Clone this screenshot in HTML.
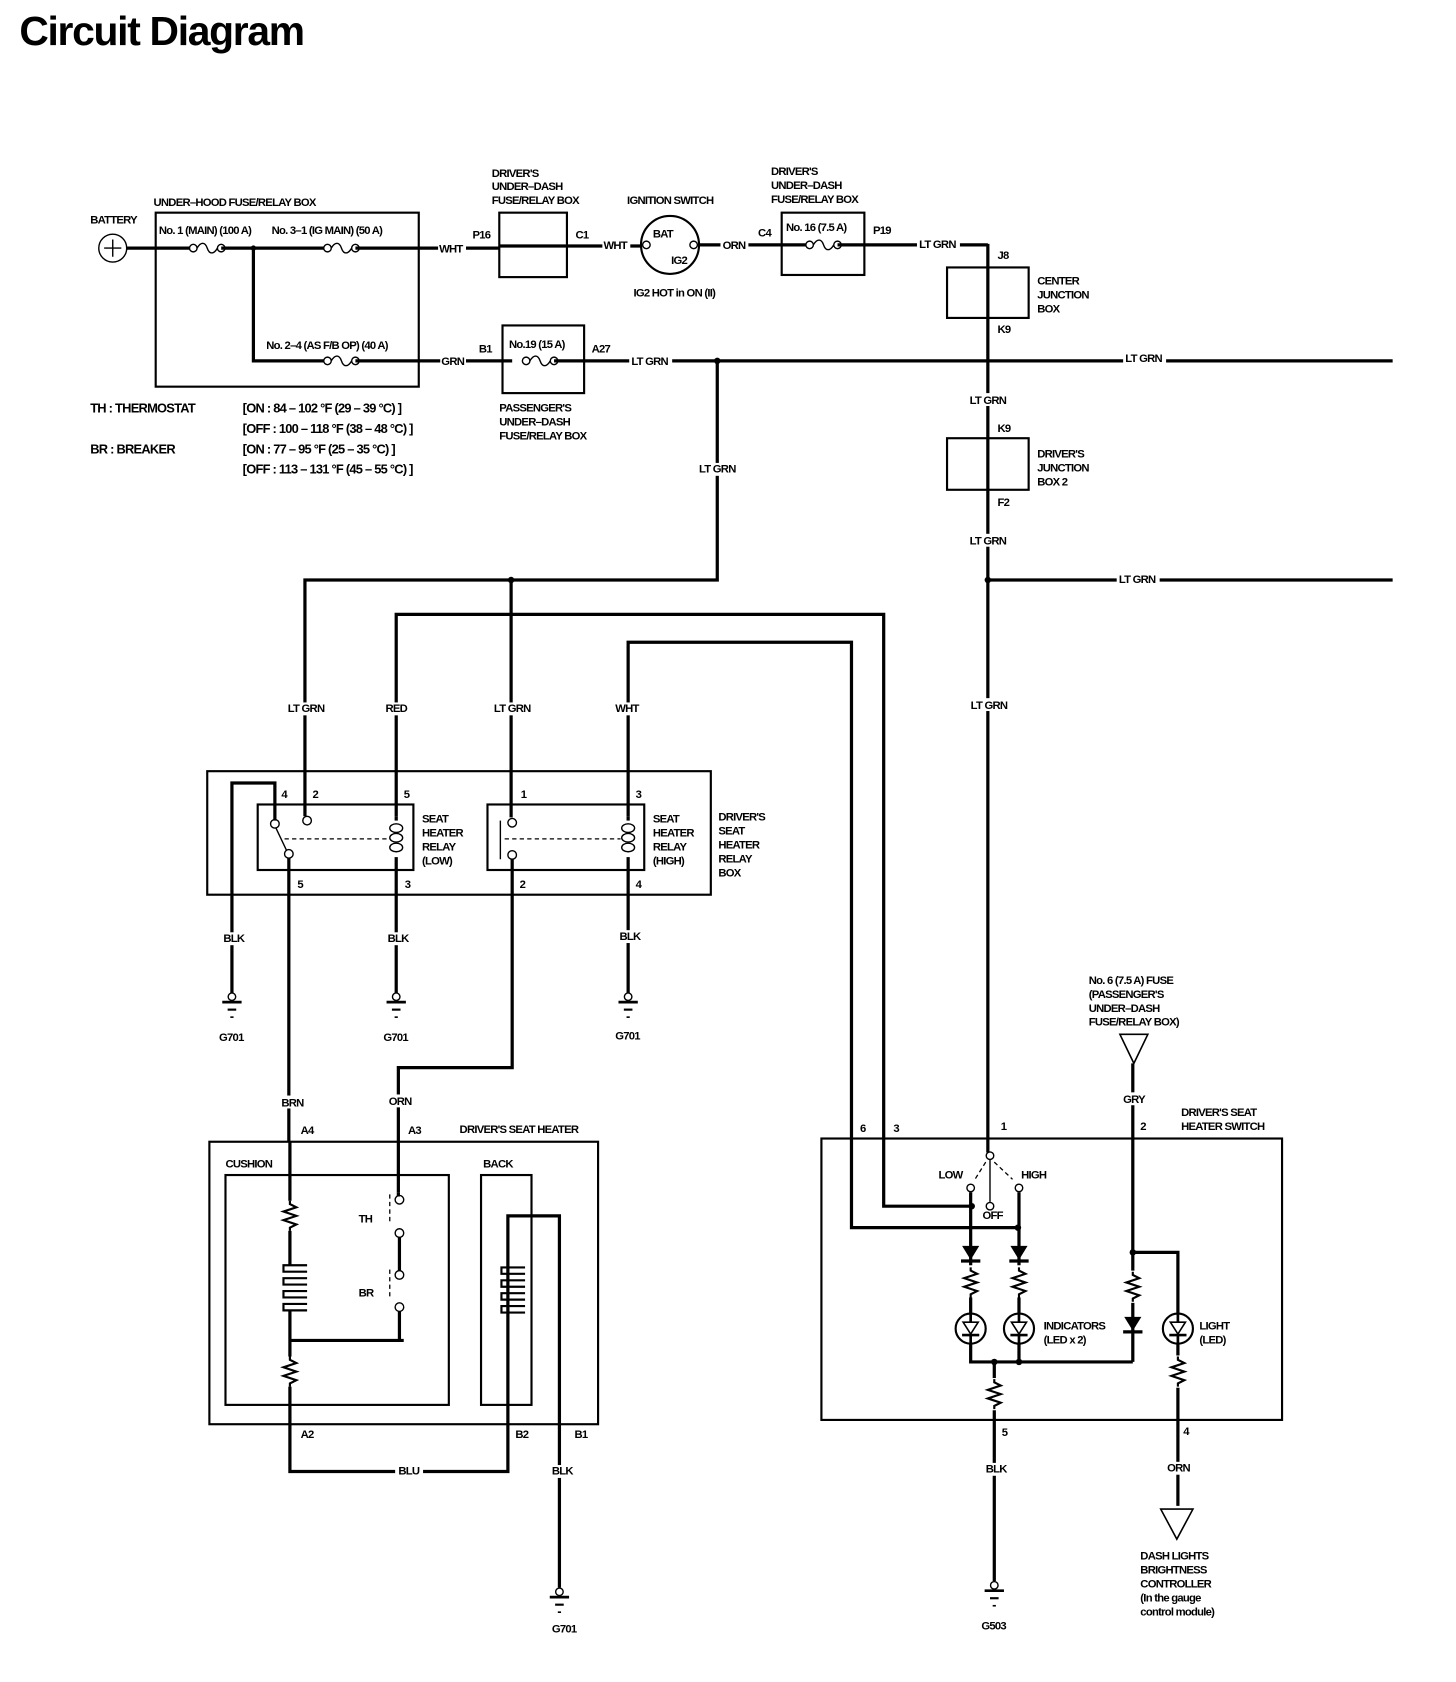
<!DOCTYPE html>
<html><head><meta charset="utf-8"><style>
html,body{margin:0;padding:0;background:#fff;}
svg{display:block;}
text{font-family:"Liberation Sans",sans-serif;font-weight:bold;font-size:10.5px;letter-spacing:-0.7px;fill:#000;}
.w{stroke:#000;stroke-width:3;fill:none;}
.b{stroke:#000;stroke-width:2;fill:none;}
.t{stroke:#000;stroke-width:1.3;fill:none;}
.d{stroke:#000;stroke-width:1.2;fill:none;stroke-dasharray:4 3;}
</style></head><body>
<svg width="1456" height="1682" viewBox="0 0 1356 1566" preserveAspectRatio="none" xmlns="http://www.w3.org/2000/svg">
<defs>
<g id="gnd"><circle cx="0" cy="0" r="3.5" fill="#fff" stroke="#000" stroke-width="1.3"/><line x1="-9" y1="5" x2="9" y2="5" stroke="#000" stroke-width="2.5"/><line x1="-4" y1="12" x2="4" y2="12" stroke="#000" stroke-width="2"/><line x1="-1.5" y1="19" x2="1.5" y2="19" stroke="#000" stroke-width="1.5"/></g>
<path id="res" d="M0,0 L0,3 L6,6 L-6,10 L6,14 L-6,18 L6,22 L0,25 L0,28" stroke="#000" stroke-width="2" fill="none"/>
<g id="fuse"><circle cx="-13" cy="0" r="3.5" fill="#fff" stroke="#000" stroke-width="1.3"/><circle cx="13" cy="0" r="3.5" fill="#fff" stroke="#000" stroke-width="1.3"/><path d="M-9.5,0 C-6,-6 -2,-6 0,0 C2,6 6,6 9.5,0" stroke="#000" stroke-width="1.3" fill="none"/></g>
<g id="heat"><path d="M10,0 L-12,0 L-12,6 L10,6 M10,12 L-12,12 L-12,18 L10,18 M10,24 L-12,24 L-12,30 L10,30 M10,36 L-12,36 L-12,42 L10,42" stroke="#000" stroke-width="2" fill="none"/></g>
<g id="led"><circle cx="0" cy="0" r="14" fill="#fff" stroke="#000" stroke-width="2"/><path d="M-7,-6 L7,-6 L0,5 Z" fill="none" stroke="#000" stroke-width="1.5"/><line x1="-8" y1="6" x2="8" y2="6" stroke="#000" stroke-width="2.5"/><line x1="0" y1="-14" x2="0" y2="-6" stroke="#000" stroke-width="2.5"/><line x1="0" y1="6" x2="0" y2="14" stroke="#000" stroke-width="2.5"/></g>
<g id="dio"><path d="M-8,-10 L8,-10 L0,3 Z" fill="#000"/><line x1="-9" y1="4" x2="9" y2="4" stroke="#000" stroke-width="3"/></g>
</defs>

<text x="18" y="42" style="font-size:38px;letter-spacing:-1.2px">Circuit Diagram</text>

<!-- battery -->
<circle cx="105" cy="231" r="13" class="t" stroke-width="1.5"/>
<path d="M97,231 H113 M105,223 V239" class="t" stroke-width="1.5"/>
<text x="84" y="208">BATTERY</text>
<line x1="118" y1="231" x2="180" y2="231" class="w"/>
<rect x="145" y="198" width="245" height="162" class="b"/>
<text x="143" y="192">UNDER–HOOD FUSE/RELAY BOX</text>
<use href="#fuse" x="193" y="231"/>
<line x1="206" y1="231" x2="305" y2="231" class="w"/>
<use href="#fuse" x="318" y="231"/>
<line x1="331" y1="231" x2="465" y2="231" class="w"/>
<circle cx="236" cy="231" r="2.5"/>
<text x="148" y="218">No. 1 (MAIN) (100 A)</text>
<text x="253" y="218">No. 3–1 (IG MAIN) (50 A)</text>
<path d="M236,231 V336 H305" class="w"/>
<use href="#fuse" x="318" y="336"/>
<line x1="331" y1="336" x2="477" y2="336" class="w"/>
<text x="248" y="325">No. 2–4 (AS F/B OP) (40 A)</text>
<rect x="408" y="226" width="26" height="12" fill="#fff"/><text x="409" y="235">WHT</text>
<rect x="410" y="331" width="24" height="12" fill="#fff"/><text x="411" y="340">GRN</text>

<text x="84" y="384" style="font-size:12px">TH : THERMOSTAT</text>
<text x="84" y="422" style="font-size:12px">BR : BREAKER</text>
<text x="226" y="384" style="font-size:12px">[ON : 84 – 102 °F (29 – 39 °C) ]</text>
<text x="226" y="403" style="font-size:12px">[OFF : 100 – 118 °F (38 – 48 °C) ]</text>
<text x="226" y="422" style="font-size:12px">[ON : 77 – 95 °F (25 – 35 °C) ]</text>
<text x="226" y="441" style="font-size:12px">[OFF : 113 – 131 °F (45 – 55 °C) ]</text>

<!-- driver's under-dash box 1 -->
<rect x="465" y="198" width="63" height="60" class="b"/>
<text x="458" y="165">DRIVER'S</text><text x="458" y="177">UNDER–DASH</text><text x="458" y="190">FUSE/RELAY BOX</text>
<text x="440" y="222">P16</text><text x="536" y="222">C1</text>
<line x1="465" y1="229" x2="598" y2="229" class="w"/>
<rect x="561" y="223" width="26" height="12" fill="#fff"/><text x="562" y="232">WHT</text>
<!-- ignition -->
<circle cx="624" cy="228" r="27" class="b"/>
<circle cx="602" cy="228" r="3.5" fill="#fff" class="t"/>
<circle cx="646" cy="228" r="3.5" fill="#fff" class="t"/>
<text x="608" y="221">BAT</text><text x="625" y="246">IG2</text>
<text x="584" y="190">IGNITION SWITCH</text>
<text x="590" y="276">IG2 HOT in ON (II)</text>
<line x1="650" y1="228" x2="728" y2="228" class="w"/>
<rect x="671" y="222" width="26" height="12" fill="#fff"/><text x="673" y="232">ORN</text>
<text x="706" y="220">C4</text>
<rect x="728" y="198" width="77" height="58" class="b"/>
<text x="718" y="163">DRIVER'S</text><text x="718" y="176">UNDER–DASH</text><text x="718" y="189">FUSE/RELAY BOX</text>
<text x="732" y="215">No. 16 (7.5 A)</text>
<line x1="728" y1="228" x2="754" y2="228" class="w"/>
<use href="#fuse" x="767" y="228"/>
<line x1="780" y1="228" x2="920" y2="228" class="w"/>
<text x="813" y="218">P19</text>
<rect x="854" y="222" width="40" height="12" fill="#fff"/><text x="856" y="231">LT GRN</text>
<!-- vertical 920 -->
<line x1="920" y1="227" x2="920" y2="1073" class="w"/>
<text x="929" y="241">J8</text>
<rect x="882" y="249" width="76" height="47" class="b"/>
<text x="966" y="265">CENTER</text><text x="966" y="278">JUNCTION</text><text x="966" y="291">BOX</text>
<text x="929" y="310">K9</text>
<rect x="900" y="366" width="40" height="12" fill="#fff"/><text x="903" y="376">LT GRN</text>
<text x="929" y="402">K9</text>
<rect x="882" y="408" width="76" height="48" class="b"/>
<text x="966" y="426">DRIVER'S</text><text x="966" y="439">JUNCTION</text><text x="966" y="452">BOX 2</text>
<text x="929" y="471">F2</text>
<rect x="900" y="497" width="40" height="12" fill="#fff"/><text x="903" y="507">LT GRN</text>
<circle cx="920" cy="540" r="3"/>
<line x1="920" y1="540" x2="1297" y2="540" class="w"/>
<rect x="1040" y="534" width="40" height="12" fill="#fff"/><text x="1042" y="543">LT GRN</text>
<rect x="900" y="650" width="40" height="12" fill="#fff"/><text x="904" y="660">LT GRN</text>

<!-- passenger fuse -->
<rect x="468" y="303" width="76" height="63" class="b"/>
<text x="474" y="324">No.19 (15 A)</text>
<use href="#fuse" x="503" y="336"/>
<line x1="516" y1="336" x2="1297" y2="336" class="w"/>
<text x="446" y="328">B1</text><text x="551" y="328">A27</text>
<rect x="586" y="330" width="40" height="12" fill="#fff"/><text x="588" y="340">LT GRN</text>
<rect x="1046" y="327" width="40" height="12" fill="#fff"/><text x="1048" y="337">LT GRN</text>
<text x="465" y="383">PASSENGER'S</text><text x="465" y="396">UNDER–DASH</text><text x="465" y="409">FUSE/RELAY BOX</text>
<circle cx="668" cy="336" r="3"/>
<path d="M668,336 V540 H284 V760" class="w"/>
<rect x="648" y="431" width="40" height="12" fill="#fff"/><text x="651" y="440">LT GRN</text>
<circle cx="476" cy="540" r="3"/>
<line x1="476" y1="540" x2="476" y2="761" class="w"/>
<rect x="266" y="654" width="40" height="12" fill="#fff"/><text x="268" y="663">LT GRN</text>
<rect x="458" y="654" width="40" height="12" fill="#fff"/><text x="460" y="663">LT GRN</text>
<!-- RED -->
<path d="M369,760 V572 H823 V1123 H905" class="w"/>
<rect x="358" y="654" width="24" height="12" fill="#fff"/><text x="359" y="663">RED</text>
<!-- WHT -->
<path d="M585,760 V598 H793 V1143 H948" class="w"/>
<rect x="572" y="654" width="26" height="12" fill="#fff"/><text x="573" y="663">WHT</text>

<!-- relay box -->
<rect x="193" y="718" width="469" height="115" class="b"/>
<rect x="240" y="749" width="145" height="61" class="b"/>
<rect x="454" y="749" width="146" height="61" class="b"/>
<text x="262" y="743">4</text><text x="291" y="743">2</text><text x="376" y="743">5</text>
<text x="485" y="743">1</text><text x="592" y="743">3</text>
<text x="277" y="827">5</text><text x="377" y="827">3</text><text x="484" y="827">2</text><text x="592" y="827">4</text>
<text x="393" y="766">SEAT</text><text x="393" y="779">HEATER</text><text x="393" y="792">RELAY</text><text x="393" y="805">(LOW)</text>
<text x="608" y="766">SEAT</text><text x="608" y="779">HEATER</text><text x="608" y="792">RELAY</text><text x="608" y="805">(HIGH)</text>
<text x="669" y="764">DRIVER'S</text><text x="669" y="777">SEAT</text><text x="669" y="790">HEATER</text><text x="669" y="803">RELAY</text><text x="669" y="816">BOX</text>
<!-- low relay internals -->
<path d="M256,764 V729 H216 V925" class="w"/>
<circle cx="256" cy="767" r="4" fill="#fff" class="t"/>
<circle cx="286" cy="764" r="4" fill="#fff" class="t"/>
<circle cx="269" cy="795" r="4" fill="#fff" class="t"/>
<line x1="257" y1="771" x2="267" y2="792" class="t" stroke-width="1.8"/>
<line x1="265" y1="781" x2="362" y2="781" class="d"/>
<line x1="369" y1="760" x2="369" y2="925" class="w"/>
<rect x="362" y="764" width="14" height="34" fill="#fff"/>
<ellipse cx="369" cy="771" rx="6" ry="4" class="t"/><ellipse cx="369" cy="780" rx="6" ry="4" class="t"/><ellipse cx="369" cy="789" rx="6" ry="4" class="t"/>
<line x1="269" y1="799" x2="269" y2="1063" class="w"/>
<!-- high relay internals -->
<circle cx="477" cy="766" r="4" fill="#fff" class="t"/>
<circle cx="477" cy="796" r="4" fill="#fff" class="t"/>
<line x1="466" y1="764" x2="466" y2="800" class="t" stroke-width="2"/>
<line x1="470" y1="781" x2="578" y2="781" class="d"/>
<line x1="585" y1="760" x2="585" y2="925" class="w"/>
<rect x="578" y="764" width="14" height="34" fill="#fff"/>
<ellipse cx="585" cy="771" rx="6" ry="4" class="t"/><ellipse cx="585" cy="780" rx="6" ry="4" class="t"/><ellipse cx="585" cy="789" rx="6" ry="4" class="t"/>
<path d="M477,800 V994 H371 V1110" class="w"/>
<!-- grounds -->
<rect x="205" y="868" width="24" height="12" fill="#fff"/><text x="208" y="877">BLK</text>
<rect x="358" y="868" width="24" height="12" fill="#fff"/><text x="361" y="877">BLK</text>
<rect x="574" y="866" width="24" height="12" fill="#fff"/><text x="577" y="875">BLK</text>
<use href="#gnd" x="216" y="928"/><use href="#gnd" x="369" y="928"/><use href="#gnd" x="585" y="928"/>
<text x="204" y="969">G701</text><text x="357" y="969">G701</text><text x="573" y="968">G701</text>
<rect x="260" y="1020" width="24" height="12" fill="#fff"/><text x="262" y="1030">BRN</text>
<rect x="360" y="1019" width="24" height="12" fill="#fff"/><text x="362" y="1029">ORN</text>
<text x="280" y="1056">A4</text><text x="380" y="1056">A3</text>
<text x="428" y="1055">DRIVER'S SEAT HEATER</text>

<!-- seat heater -->
<rect x="195" y="1063" width="362" height="263" class="b"/>
<rect x="210" y="1094" width="208" height="214" class="b"/>
<rect x="448" y="1094" width="47" height="214" class="b"/>
<text x="210" y="1087">CUSHION</text><text x="450" y="1087">BACK</text>
<line x1="270" y1="1063" x2="270" y2="1118" class="w"/>
<use href="#res" x="270" y="1118"/>
<line x1="270" y1="1146" x2="270" y2="1178" class="w"/>
<use href="#heat" x="276" y="1178"/>
<line x1="270" y1="1220" x2="270" y2="1263" class="w"/>
<line x1="270" y1="1248" x2="376" y2="1248" class="w"/>
<use href="#res" x="270" y="1263"/>
<path d="M270,1291 V1370 H473 V1222" class="w"/>
<rect x="368" y="1364" width="26" height="12" fill="#fff"/><text x="371" y="1373">BLU</text>
<!-- TH/BR -->
<line x1="371" y1="1110" x2="371" y2="1114" class="w"/>
<circle cx="372" cy="1117" r="4" fill="#fff" class="t"/>
<circle cx="372" cy="1148" r="4" fill="#fff" class="t"/>
<line x1="363" y1="1112" x2="363" y2="1140" class="d"/>
<line x1="372" y1="1152" x2="372" y2="1183" class="w"/>
<circle cx="372" cy="1187" r="4" fill="#fff" class="t"/>
<circle cx="372" cy="1217" r="4" fill="#fff" class="t"/>
<line x1="363" y1="1182" x2="363" y2="1210" class="d"/>
<path d="M372,1221 V1248" class="w"/>
<text x="334" y="1138">TH</text><text x="334" y="1207">BR</text>
<!-- back -->
<use href="#heat" x="479" y="1180"/>
<line x1="473" y1="1180" x2="473" y2="1222" class="w"/>
<path d="M473,1180 V1132 H521 V1478" class="w"/>
<text x="280" y="1339">A2</text><text x="480" y="1339">B2</text><text x="535" y="1339">B1</text>
<rect x="510" y="1364" width="24" height="12" fill="#fff"/><text x="514" y="1373">BLK</text>
<use href="#gnd" x="521" y="1482"/>
<text x="514" y="1520">G701</text>

<!-- switch -->
<rect x="765" y="1060" width="429" height="262" class="b"/>
<text x="1100" y="1039">DRIVER'S SEAT</text><text x="1100" y="1052">HEATER SWITCH</text>
<text x="801" y="1054">6</text><text x="832" y="1054">3</text><text x="932" y="1052">1</text><text x="1062" y="1052">2</text>
<circle cx="922" cy="1076" r="3.5" fill="#fff" class="t"/>
<line x1="922" y1="1080" x2="922" y2="1119" class="t" stroke-width="2"/>
<circle cx="922" cy="1123" r="3.5" fill="#fff" class="t"/>
<circle cx="904" cy="1106" r="3.5" fill="#fff" class="t"/>
<circle cx="949" cy="1106" r="3.5" fill="#fff" class="t"/>
<line x1="918" y1="1082" x2="908" y2="1098" class="d"/><line x1="926" y1="1082" x2="943" y2="1098" class="d"/>
<text x="874" y="1097">LOW</text><text x="951" y="1097">HIGH</text><text x="915" y="1135">OFF</text>
<circle cx="905" cy="1123" r="3"/><circle cx="948" cy="1143" r="3"/>
<line x1="904" y1="1110" x2="904" y2="1223" class="w"/>
<line x1="949" y1="1110" x2="949" y2="1223" class="w"/>
<use href="#dio" x="904" y="1170"/><use href="#dio" x="949" y="1170"/>
<rect x="897" y="1178" width="14" height="30" fill="#fff"/><rect x="942" y="1178" width="14" height="30" fill="#fff"/>
<use href="#res" x="904" y="1180"/><use href="#res" x="949" y="1180"/>
<use href="#led" x="904" y="1237"/><use href="#led" x="949" y="1237"/>
<text x="972" y="1238">INDICATORS</text><text x="972" y="1251">(LED x 2)</text>
<path d="M904,1251 V1268 H1055" class="w"/>
<line x1="949" y1="1251" x2="949" y2="1268" class="w"/>
<circle cx="926" cy="1268" r="3"/><circle cx="949" cy="1268" r="3"/>
<line x1="926" y1="1268" x2="926" y2="1472" class="w"/>
<rect x="919" y="1283" width="14" height="30" fill="#fff"/>
<use href="#res" x="926" y="1284"/>
<text x="933" y="1337">5</text>
<rect x="915" y="1362" width="24" height="12" fill="#fff"/><text x="918" y="1371">BLK</text>
<use href="#gnd" x="926" y="1476"/>
<text x="914" y="1517">G503</text>
<!-- GRY -->
<path d="M1043,963 L1069,963 L1056,990 Z" fill="#fff" stroke="#000" stroke-width="1.5"/>
<text x="1014" y="916">No. 6 (7.5 A) FUSE</text><text x="1014" y="929">(PASSENGER'S</text><text x="1014" y="942">UNDER–DASH</text><text x="1014" y="955">FUSE/RELAY BOX)</text>
<line x1="1055" y1="990" x2="1055" y2="1268" class="w"/>
<rect x="1044" y="1017" width="24" height="12" fill="#fff"/><text x="1046" y="1027">GRY</text>
<circle cx="1055" cy="1166" r="3"/>
<path d="M1055,1166 H1097 V1402" class="w"/>
<rect x="1048" y="1183" width="14" height="30" fill="#fff"/>
<use href="#res" x="1055" y="1184"/>
<use href="#dio" x="1055" y="1236"/>
<use href="#led" x="1097" y="1237"/>
<rect x="1090" y="1262" width="14" height="30" fill="#fff"/>
<use href="#res" x="1097" y="1263"/>
<text x="1117" y="1238">LIGHT</text><text x="1117" y="1251">(LED)</text>
<text x="1102" y="1336">4</text>
<rect x="1085" y="1361" width="26" height="12" fill="#fff"/><text x="1087" y="1370">ORN</text>
<path d="M1081,1405 L1111,1405 L1096,1433 Z" fill="#fff" stroke="#000" stroke-width="1.5"/>
<text x="1062" y="1452">DASH LIGHTS</text><text x="1062" y="1465">BRIGHTNESS</text><text x="1062" y="1478">CONTROLLER</text><text x="1062" y="1491">(In the gauge</text><text x="1062" y="1504">control module)</text>
</svg>
</body></html>
